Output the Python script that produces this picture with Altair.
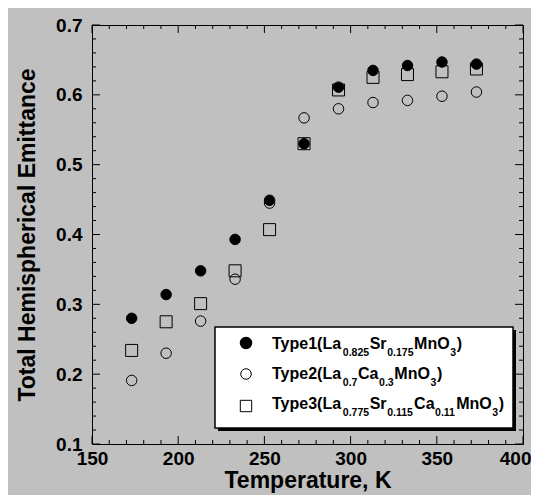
import altair as alt
import pandas as pd

# ---------------- data ----------------
temps = [173, 193, 213, 233, 253, 273, 293, 313, 333, 353, 373]
type1 = [0.280, 0.314, 0.348, 0.393, 0.449, 0.530, 0.611, 0.635, 0.642, 0.647, 0.644]
type2 = [0.191, 0.230, 0.276, 0.336, 0.445, 0.567, 0.580, 0.589, 0.592, 0.598, 0.604]
type3 = [0.234, 0.275, 0.301, 0.348, 0.407, 0.530, 0.607, 0.625, 0.629, 0.633, 0.637]

x_major = [150, 200, 250, 300, 350, 400]
x_minor = [v for v in range(160, 400, 10) if v % 50 != 0]
y_major = [0.1, 0.2, 0.3, 0.4, 0.5, 0.6, 0.7]
y_minor = [round(0.1 + 0.02 * i, 2) for i in range(1, 30) if i % 5 != 0]

legend_lines = [
    [("Type1(La", 0), ("0.825", 1), ("Sr", 0), ("0.175", 1), ("MnO", 0), ("3", 1), (")", 0)],
    [("Type2(La", 0), ("0.7", 1), ("Ca", 0), ("0.3", 1), ("MnO", 0), ("3", 1), (")", 0)],
    [("Type3(La", 0), ("0.775", 1), ("Sr", 0), ("0.115", 1), ("Ca", 0), ("0.11", 1), ("MnO", 0), ("3", 1), (")", 0)],
]

# ---------------- layout ----------------
W, H = 431, 419
FONT = "Liberation Sans"
BG = "#c0c0c0"

xs = alt.Scale(domain=[150, 400], nice=False, zero=False)
ys = alt.Scale(domain=[0.1, 0.7], nice=False, zero=False)

rows = []
for t, a, b, c in zip(temps, type1, type2, type3):
    rows.append({"T": t, "E": a, "s": "Type1"})
    rows.append({"T": t, "E": b, "s": "Type2"})
    rows.append({"T": t, "E": c, "s": "Type3"})
df = pd.DataFrame(rows)

last_x = "datum.value == %d" % x_major[-1]
xaxis = alt.Axis(values=x_major, ticks=False, domain=False, grid=False,
                 labelFont=FONT, labelFontSize=19, labelFontWeight="bold", labelColor="black",
                 labelPadding=5, labelFlush=False,
                 labelAlign={"condition": {"test": last_x, "value": "right"}, "value": "center"},
                 labelOffset={"condition": {"test": last_x, "value": 8}, "value": 0},
                 title="Temperature, K", titleFont=FONT, titleFontSize=23,
                 titleFontWeight="bold", titleColor="black", titlePadding=1)
yaxis = alt.Axis(values=y_major, format=".1f", ticks=False, domain=False, grid=False,
                 labelFont=FONT, labelFontSize=19, labelFontWeight="bold", labelColor="black",
                 labelPadding=10, labelFlush=False,
                 title="Total Hemispherical Emittance", titleFont=FONT, titleFontSize=23,
                 titleFontWeight="bold", titleColor="black", titlePadding=16)

X = lambda f: alt.X(f, scale=xs, axis=xaxis)
Y = lambda f: alt.Y(f, scale=ys, axis=yaxis)

base = alt.Chart(df)
sq = base.transform_filter(alt.datum.s == "Type3").mark_point(
    shape="square", size=144, filled=False, stroke="black", strokeWidth=1, opacity=1
).encode(x=X("T:Q"), y=Y("E:Q"))
oc = base.transform_filter(alt.datum.s == "Type2").mark_point(
    shape="circle", size=110, filled=False, stroke="black", strokeWidth=1, opacity=1
).encode(x=X("T:Q"), y=Y("E:Q"))
fc = base.transform_filter(alt.datum.s == "Type1").mark_point(
    shape="circle", size=110, filled=True, fill="black", stroke="black", strokeWidth=1, opacity=1
).encode(x=X("T:Q"), y=Y("E:Q"))

# inward ticks on all four sides
def xticks(vals, ln):
    d = pd.DataFrame({"v": vals})
    bot = alt.Chart(d).mark_rule(color="black", strokeWidth=1).encode(
        x=X("v:Q"), y=alt.value(H), y2=alt.value(H - ln))
    top = alt.Chart(d).mark_rule(color="black", strokeWidth=1).encode(
        x=X("v:Q"), y=alt.value(0), y2=alt.value(ln))
    return [bot, top]

def yticks(vals, ln):
    d = pd.DataFrame({"v": vals})
    lef = alt.Chart(d).mark_rule(color="black", strokeWidth=1).encode(
        y=Y("v:Q"), x=alt.value(0), x2=alt.value(ln))
    rig = alt.Chart(d).mark_rule(color="black", strokeWidth=1).encode(
        y=Y("v:Q"), x=alt.value(W), x2=alt.value(W - ln))
    return [lef, rig]

tick_layers = xticks(x_major, 8) + xticks(x_minor, 4) + yticks(y_major, 8) + yticks(y_minor, 4)

# legend box
one = pd.DataFrame({"a": [0]})
LX0, LX1, LY0, LY1 = 123, 421, 302, 403
shadow = alt.Chart(one).mark_rect(color="black").encode(
    x=alt.value(LX0 + 3), x2=alt.value(LX1 + 3), y=alt.value(LY0 + 3), y2=alt.value(LY1 + 3))
box = alt.Chart(one).mark_rect(fill="white", stroke="black", strokeWidth=1.5).encode(
    x=alt.value(LX0), x2=alt.value(LX1), y=alt.value(LY0), y2=alt.value(LY1))

sym_x = 154
sym_y = [318, 349, 381]
leg_syms = [
    alt.Chart(one).mark_point(shape="circle", size=110, filled=True, fill="black",
                              stroke="black", opacity=1).encode(x=alt.value(sym_x), y=alt.value(sym_y[0])),
    alt.Chart(one).mark_point(shape="circle", size=110, filled=False, stroke="black",
                              strokeWidth=1, opacity=1).encode(x=alt.value(sym_x), y=alt.value(sym_y[1])),
    alt.Chart(one).mark_point(shape="square", size=130, filled=False, stroke="black",
                              strokeWidth=1, opacity=1).encode(x=alt.value(sym_x), y=alt.value(sym_y[2])),
]

# Arial-bold advance widths (per 1000 em)
AW = {"T": 611, "y": 556, "p": 611, "e": 556, "(": 333, ")": 333, "L": 611, "a": 556,
      "S": 667, "r": 389, "M": 833, "n": 611, "O": 778, "C": 722, ".": 278}
def width(s, fs):
    return sum(AW.get(ch, 556) for ch in s) * fs / 1000.0

MAIN_FS, SUB_FS = 16, 10.5
text_layers = []
baselines = [324, 354, 384]
for line, by in zip(legend_lines, baselines):
    cx = 180.0
    for seg, is_sub in line:
        fs = SUB_FS if is_sub else MAIN_FS
        yy = by + (7 if is_sub else 0)
        text_layers.append(
            alt.Chart(one).mark_text(align="left", baseline="alphabetic", font=FONT,
                                     fontWeight="bold", fontSize=fs, color="black").encode(
                x=alt.value(round(cx, 1)), y=alt.value(yy), text=alt.value(seg)))
        cx += width(seg, fs) + 0.6

chart = alt.layer(sq, oc, fc, *tick_layers, shadow, box, *leg_syms, *text_layers).properties(
    width=W, height=H,
    padding={"left": 84, "top": 17, "right": 8, "bottom": 51},
    autosize=alt.AutoSizeParams(type="none"),
    background=BG,
).configure_view(stroke="black", strokeWidth=1, fill=BG)

chart.save("out.html", embed_options={"renderer": "svg", "actions": False})
